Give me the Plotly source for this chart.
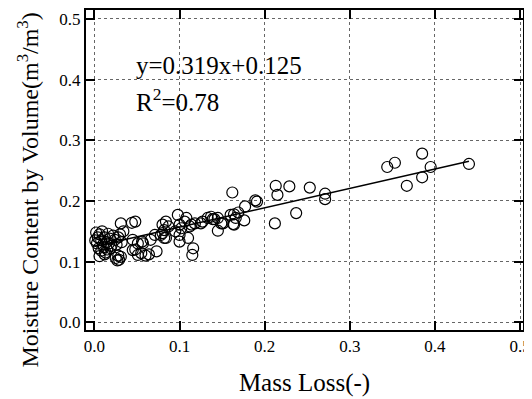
import plotly.graph_objects as go

mass_loss = [
    0.002, 0.004, 0.006, 0.008, 0.003, 0.010, 0.012, 0.014, 0.016, 0.018,
    0.020, 0.022, 0.005, 0.008, 0.011, 0.013, 0.015, 0.017, 0.019, 0.024,
    0.026, 0.028, 0.030, 0.032, 0.034, 0.001, 0.009, 0.006, 0.012,
    0.025, 0.027, 0.029, 0.031, 0.028,
    0.044, 0.048, 0.031, 0.045, 0.051, 0.056, 0.057, 0.066, 0.071, 0.078,
    0.045, 0.051, 0.055, 0.060, 0.064, 0.073, 0.048, 0.082, 0.080, 0.082,
    0.084, 0.080, 0.087, 0.098, 0.108, 0.100, 0.112, 0.100, 0.116, 0.115,
    0.102, 0.095, 0.100, 0.084, 0.110, 0.106, 0.114, 0.118, 0.125, 0.127,
    0.133, 0.137, 0.141, 0.145, 0.139, 0.149, 0.151, 0.145, 0.160, 0.164,
    0.162, 0.163, 0.166, 0.169, 0.164, 0.176, 0.177, 0.189, 0.191,
    0.213, 0.229, 0.253, 0.215, 0.271, 0.271, 0.237, 0.212,
    0.344, 0.353, 0.385, 0.395, 0.385, 0.367, 0.440,
]
moisture = [
    0.148, 0.140, 0.145, 0.135, 0.130, 0.128, 0.140, 0.132, 0.146, 0.138,
    0.126, 0.143, 0.122, 0.118, 0.124, 0.115, 0.120, 0.130, 0.122, 0.136,
    0.128, 0.140, 0.145, 0.132, 0.150, 0.135, 0.150, 0.109, 0.112,
    0.106, 0.102, 0.103, 0.108, 0.110,
    0.164, 0.166, 0.163, 0.136, 0.130, 0.133, 0.130, 0.136, 0.144, 0.144,
    0.119, 0.111, 0.114, 0.110, 0.112, 0.117, 0.120, 0.139, 0.147, 0.152,
    0.166, 0.161, 0.158, 0.177, 0.172, 0.161, 0.158, 0.133, 0.122, 0.111,
    0.155, 0.150, 0.144, 0.139, 0.139, 0.166, 0.161, 0.163, 0.163, 0.166,
    0.172, 0.174, 0.170, 0.172, 0.170, 0.163, 0.163, 0.151, 0.177, 0.161,
    0.214, 0.162, 0.172, 0.181, 0.178, 0.168, 0.191, 0.201, 0.199,
    0.225, 0.224, 0.222, 0.210, 0.212, 0.203, 0.180, 0.163,
    0.256, 0.263, 0.278, 0.256, 0.239, 0.225, 0.261,
]

fit_slope = 0.319
fit_intercept = 0.125
fit_x = [0.0, 0.44]
fit_y = [fit_slope * v + fit_intercept for v in fit_x]

tick_vals = [0.0, 0.1, 0.2, 0.3, 0.4, 0.5]
tick_text = ["0.0", "0.1", "0.2", "0.3", "0.4", "0.5"]

FONT = "Liberation Serif, Times New Roman, serif"

fig = go.Figure()
fig.add_trace(go.Scatter(
    x=mass_loss, y=moisture, mode="markers",
    marker=dict(symbol="circle-open", size=11, color="black", line=dict(width=1.2, color="black")),
    showlegend=False,
))
fig.add_trace(go.Scatter(
    x=fit_x, y=fit_y, mode="lines",
    line=dict(color="black", width=1.5), showlegend=False,
))

axis_common = dict(
    showline=True, linecolor="black", linewidth=2, mirror="ticks",
    ticks="inside", ticklen=9, tickwidth=2, tickcolor="black",
    showgrid=True, gridcolor="#666666", griddash="dot", gridwidth=1,
    zeroline=False, tickvals=tick_vals, ticktext=tick_text,
    tickfont=dict(family=FONT, size=17, color="black"),
    automargin=False, ticklabeloverflow="allow",
)

fig.update_layout(
    width=524, height=391,
    margin=dict(l=78, r=9, t=2, b=69),
    paper_bgcolor="white", plot_bgcolor="white",
    font=dict(family=FONT, color="black"),
    xaxis=dict(range=[-0.0099, 0.5035], **axis_common,
               title=dict(text="Mass Loss(-)", font=dict(family=FONT, size=25), standoff=18)),
    yaxis=dict(range=[-0.0127, 0.5148], **axis_common),
    annotations=[
        dict(x=0.047, y=0.423, xref="x", yref="y", xanchor="left", yanchor="middle",
             text="y=0.319x+0.125", showarrow=False, font=dict(family=FONT, size=25)),
        dict(x=0.047, y=0.366, xref="x", yref="y", xanchor="left", yanchor="middle",
             text="R<sup>2</sup>=0.78", showarrow=False, font=dict(family=FONT, size=25)),
        dict(x=-0.132, y=0.437, xref="paper", yref="paper", xanchor="center", yanchor="middle",
             textangle=-90, showarrow=False,
             text="Moisture Content by Volume(m<sup>3</sup>/m<sup>3</sup>)",
             font=dict(family=FONT, size=24)),
    ],
)

fig.write_html("out.html")
